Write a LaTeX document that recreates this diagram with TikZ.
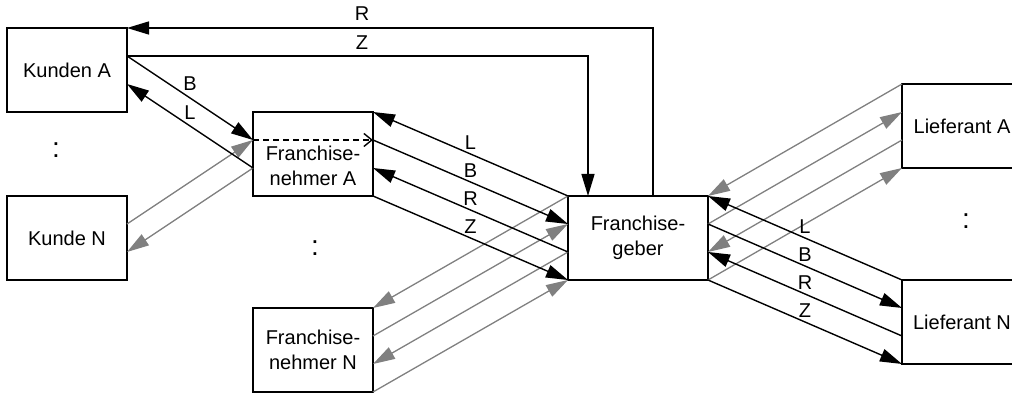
\documentclass[tikz,border=0pt]{standalone}
\usepackage{fontspec}
\setmainfont{Liberation Sans}
\usetikzlibrary{arrows.meta,calc}
\begin{document}
\begin{tikzpicture}[x=0.5pt,y=-0.5pt,
  box/.style={draw, line width=0.9pt, minimum width=60pt, minimum height=42pt, inner sep=0pt, outer sep=0pt, align=center, font=\fontsize{10}{12.5}\selectfont},
  txt/.style={inner sep=0pt, align=center, font=\fontsize{10}{12.5}\selectfont},
  blk/.style={line width=0.7pt, -{Triangle[length=11pt,width=6.5pt]}},
  gry/.style={line width=0.65pt, color=gray, -{Triangle[length=11pt,width=6.5pt]}},
  dsh/.style={line width=0.7pt, dash pattern=on 3pt off 2pt, -{Straight Barb[length=4pt,width=6.5pt]}},
  lbl/.style={inner sep=0pt, font=\fontsize{10}{12}\selectfont},
  dots/.style={inner sep=0pt, font=\fontsize{14}{16}\selectfont},
  mid/.style={pos=0.5, inner sep=0pt, yshift=5.5pt, font=\fontsize{10}{12}\selectfont},
]
\useasboundingbox (0,0) rectangle (1012,394);
\clip (0,0) rectangle (1012,394);

% boxes
\node[box] (KA) at (67,70) {Kunden A};
\node[box] (KN) at (67,238) {Kunde N};
\node[box] (FA) at (313,154) {};
\node[txt] (FAt) at (313,166) {Franchise-\\nehmer A};
\node[box] (FN) at (313,350) {Franchise-\\nehmer N};
\node[box, minimum width=70pt] (FG) at (638,238) {Franchise-\\geber};
\node[box] (LA) at (962,126) {Lieferant A};
\node[box] (LN) at (962,322) {Lieferant N};

% side points
\foreach \n in {KA,KN,FA,FN,FG,LA,LN}{
  \coordinate (\n-e1) at ($(\n.north east)!1/3!(\n.south east)$);
  \coordinate (\n-e2) at ($(\n.north east)!2/3!(\n.south east)$);
  \coordinate (\n-w1) at ($(\n.north west)!1/3!(\n.south west)$);
  \coordinate (\n-w2) at ($(\n.north west)!2/3!(\n.south west)$);
}
\coordinate (FGr) at ($(FG.north)+(15,0)$);
\coordinate (FGz) at ($(FG.north)+(-50,0)$);

% dots
\node[dots] (d1) at (56,150) {:};
\node[dots] (d2) at (315,248) {:};
\node[dots] (d3) at (966,221) {:};

% top connectors
\draw[blk] (FGr) |- (KA.north east);
\draw[blk] (KA-e1) -| (FGz);
\node[lbl] (lR0) at (362,14) {R};
\node[lbl] (lZ0) at (362,43) {Z};

% gray connectors
\draw[gry] (KN-e1) -- (FA-w1);
\draw[gry] (FA-w2) -- (KN-e2);
\draw[gry] (FG.north west) -- (FN.north east);
\draw[gry] (FN-e1) -- (FG-w1);
\draw[gry] (FG-w2) -- (FN-e2);
\draw[gry] (FN.south east) -- (FG.south west);
\draw[gry] (LA.north west) -- (FG.north east);
\draw[gry] (FG-e1) -- (LA-w1);
\draw[gry] (LA-w2) -- (FG-e2);
\draw[gry] (FG.south east) -- (LA.south west);

% Kunden A - Franchisenehmer A
\draw[blk] (KA-e1) -- node[mid, yshift=1.5pt] (lB1) {B} (FA-w1);
\draw[blk] (FA-w2) -- node[mid, yshift=1pt] (lL1) {L} (KA-e2);
\draw[dsh] (FA-w1) -- (FA-e1);

% Franchisenehmer A - Franchisegeber
\draw[blk] (FG.north west) -- node[mid] (lL2) {L} (FA.north east);
\draw[blk] (FA-e1) -- node[mid] (lB2) {B} (FG-w1);
\draw[blk] (FG-w2) -- node[mid] (lR2) {R} (FA-e2);
\draw[blk] (FA.south east) -- node[mid] (lZ2) {Z} (FG.south west);

% Franchisegeber - Lieferant N
\draw[blk] (LN.north west) -- node[mid] (lL3) {L} (FG.north east);
\draw[blk] (FG-e1) -- node[mid] (lB3) {B} (LN-w1);
\draw[blk] (LN-w2) -- node[mid] (lR3) {R} (FG-e2);
\draw[blk] (FG.south east) -- node[mid] (lZ3) {Z} (LN.south west);
\end{tikzpicture}
\end{document}
